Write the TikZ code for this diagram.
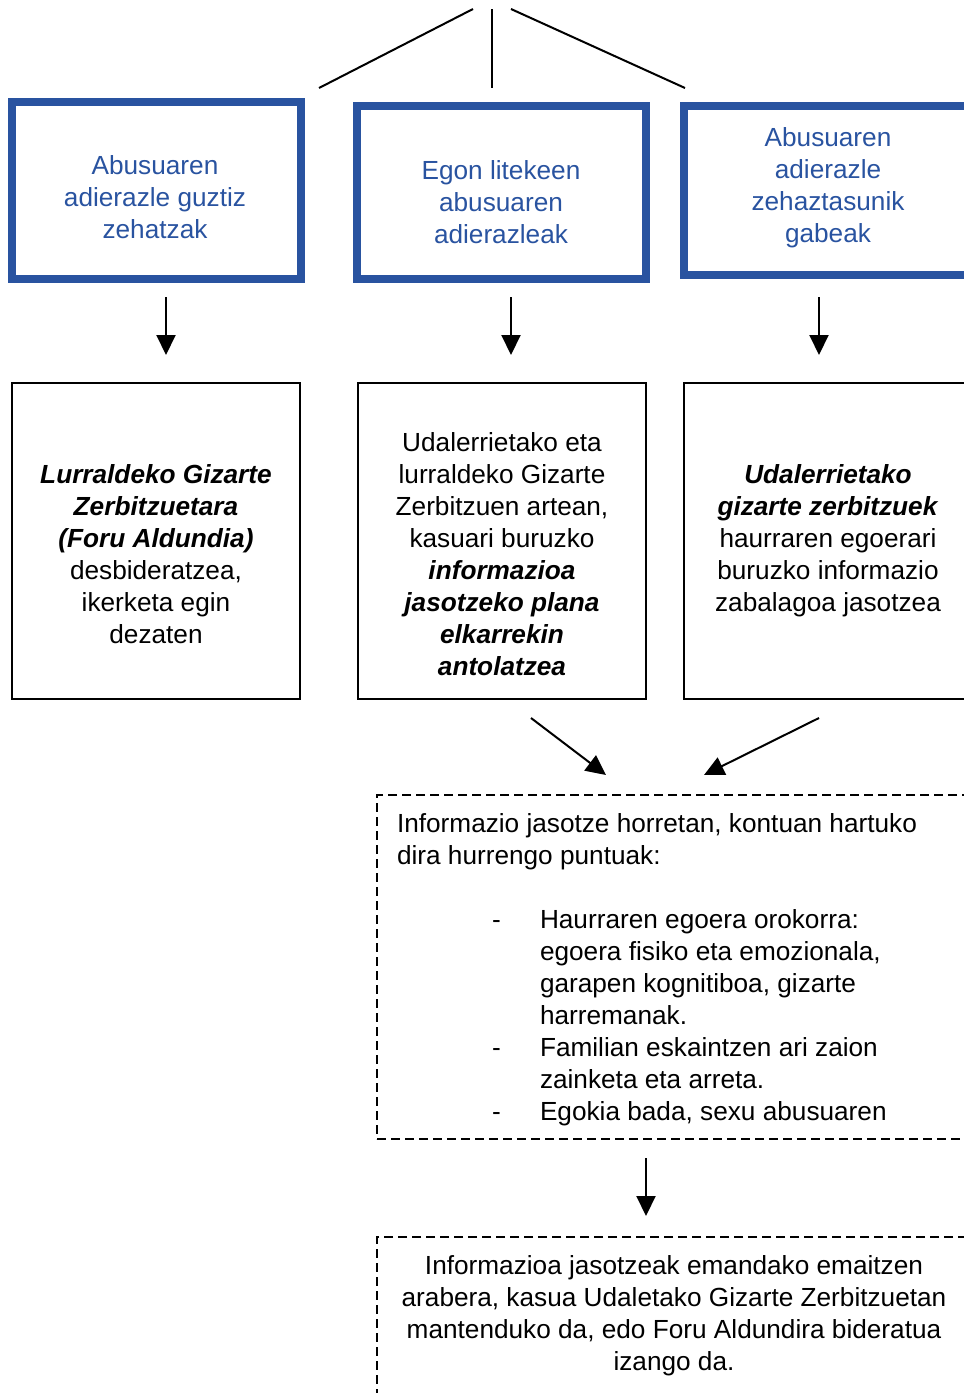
\documentclass[tikz,border=0pt]{standalone}
\usepackage{fontspec}
\setmainfont{Liberation Sans}
\usetikzlibrary{arrows.meta}
\definecolor{boxblue}{RGB}{41,83,160}
% centred stack of lines
\newcommand\linesc[1]{\begin{tabular}{@{}c@{}}#1\end{tabular}}
% left-aligned stack of lines
\newcommand\linesl[1]{\begin{tabular}{@{}l@{}}#1\end{tabular}}
\newcommand\bi[1]{\textbf{\textit{#1}}}
\begin{document}
\begin{tikzpicture}[x=1pt,y=-1pt,
  txt/.style={inner sep=0pt, outer sep=0pt, font=\fontsize{26.2}{32}\selectfont},
  headbox/.style={draw=boxblue, line width=8pt, outer sep=0pt, inner sep=0pt},
  stepbox/.style={draw=black, line width=1.5pt, outer sep=0pt, inner sep=0pt},
  notebox/.style={draw=black, line width=2pt, dash pattern=on 9pt off 5pt, outer sep=0pt, inner sep=0pt},
  arr/.style={line width=2pt, -{Triangle[length=20pt,width=19pt]}},
  link/.style={line width=2pt}]
\useasboundingbox (0,0) rectangle (964,1393);
\clip (0,0) rectangle (964,1393);

% branch lines coming from above
\coordinate (top1) at (473,9);
\coordinate (top2) at (492,9);
\coordinate (top3) at (511,9);
\coordinate (foot1) at (319,88);
\coordinate (foot2) at (492,88);
\coordinate (foot3) at (685,88);
\draw[link] (top1) -- (foot1);
\draw[link] (top2) -- (foot2);
\draw[link] (top3) -- (foot3);

% indicator boxes
\node[headbox, minimum width=289pt, minimum height=177pt] (b1) at (156.5,190.75) {};
\node[headbox, minimum width=289pt, minimum height=173pt] (b2) at (501.5,192.5) {};
\node[headbox, minimum width=289pt, minimum height=169pt] (b3) at (828.5,190.5) {};
\node[txt, text=boxblue] (t1) at (155,200) {\linesc{Abusuaren\\adierazle guztiz\\zehatzak}};
\node[txt, text=boxblue] (t2) at (501,205) {\linesc{Egon litekeen\\abusuaren\\adierazleak}};
\node[txt, text=boxblue] (t3) at (828,188.5) {\linesc{Abusuaren\\adierazle\\zehaztasunik\\gabeak}};

% action boxes
\node[stepbox, minimum width=288pt, minimum height=316pt] (cA) at (156,541) {};
\node[stepbox, minimum width=288pt, minimum height=316pt] (cB) at (502,541) {};
\node[stepbox, minimum width=288pt, minimum height=316pt] (cC) at (828,541) {};
\node[txt] (sA) at (156,557) {\linesc{\bi{Lurraldeko Gizarte}\\\bi{Zerbitzuetara}\\\bi{(Foru Aldundia)}\\desbideratzea,\\ikerketa egin\\dezaten}};
\node[txt] (sB) at (502,557) {\linesc{Udalerrietako eta\\lurraldeko Gizarte\\Zerbitzuen artean,\\kasuari buruzko\\\bi{informazioa}\\\bi{jasotzeko plana}\\\bi{elkarrekin}\\\bi{antolatzea}}};
\node[txt] (sC) at (828,541) {\linesc{\bi{Udalerrietako}\\\bi{gizarte zerbitzuek}\\haurraren egoerari\\buruzko informazio\\zabalagoa jasotzea}};

% information gathering box
\node[notebox, minimum width=594pt, minimum height=344pt] (info) at (674,967) {};
\node[txt, anchor=north west] (infotxt) at (397,810) {\linesl{%
Informazio jasotze horretan, kontuan hartuko\\
dira hurrengo puntuak:\\
\\
\hspace*{95pt}\makebox[48pt][l]{-}Haurraren egoera orokorra:\\
\hspace*{143pt}egoera fisiko eta emozionala,\\
\hspace*{143pt}garapen kognitiboa, gizarte\\
\hspace*{143pt}harremanak.\\
\hspace*{95pt}\makebox[48pt][l]{-}Familian eskaintzen ari zaion\\
\hspace*{143pt}zainketa eta arreta.\\
\hspace*{95pt}\makebox[48pt][l]{-}Egokia bada, sexu abusuaren}};

% outcome box
\node[notebox, minimum width=594pt, minimum height=200pt] (res) at (674,1337) {};
\node[txt] (restxt) at (674,1316) {\linesc{Informazioa jasotzeak emandako emaitzen\\arabera, kasua Udaletako Gizarte Zerbitzuetan\\mantenduko da, edo Foru Aldundira bideratua\\izango da.}};

% connectors
\draw[arr] ([xshift=9.5pt,yshift=-18pt]b1.south) -- ([xshift=10pt,yshift=28pt]cA.north);
\draw[arr] ([xshift=9.5pt,yshift=-18pt]b2.south) -- ([xshift=9pt,yshift=28pt]cB.north);
\draw[arr] ([xshift=-9.5pt,yshift=-22pt]b3.south) -- ([xshift=-9pt,yshift=28pt]cC.north);
\draw[arr] ([xshift=29pt,yshift=-19pt]cB.south) -- ([xshift=-68pt,yshift=20pt]info.north);
\draw[arr] ([xshift=-9pt,yshift=-19pt]cC.south) -- ([xshift=30pt,yshift=20pt]info.north);
\draw[arr] ([xshift=-28pt,yshift=-19pt]info.south) -- ([xshift=-28pt,yshift=21pt]res.north);
\end{tikzpicture}
\end{document}
